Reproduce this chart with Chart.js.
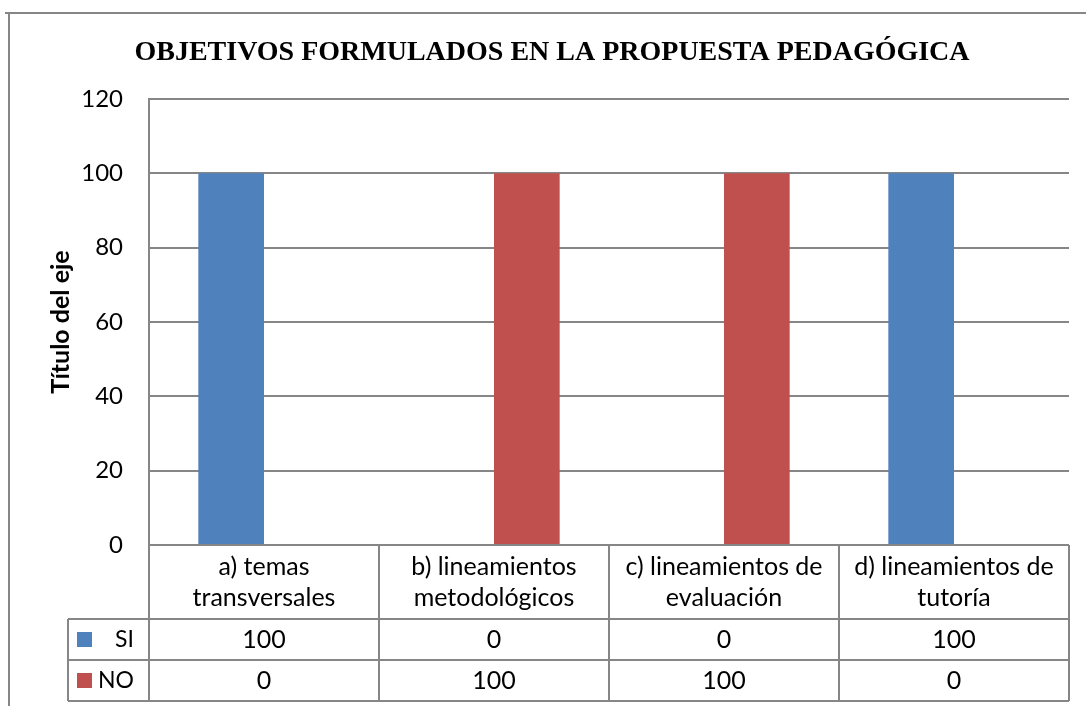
<!DOCTYPE html>
<html>
<head>
<meta charset="utf-8">
<title>Objetivos formulados en la propuesta pedagógica</title>
<script src="https://cdn.jsdelivr.net/npm/chart.js@4.4.1/dist/chart.umd.min.js"></script>
<style>
    html, body { margin: 0; padding: 0; background: #ffffff; }
    #wrap { width: 1086px; height: 706px; position: relative; }
</style>
</head>
<body>
<div id="wrap"><canvas id="barChart" width="1086" height="706"></canvas></div>
<script>
// Data
const chartTitle = 'OBJETIVOS FORMULADOS EN LA PROPUESTA PEDAGÓGICA';
const axisTitle = 'Título del eje';
const categories = [
    ['a) temas', 'transversales'],
    ['b) lineamientos', 'metodológicos'],
    ['c) lineamientos de', 'evaluación'],
    ['d) lineamientos de', 'tutoría']
];
const siValues = [100, 0, 0, 100];
const noValues = [0, 100, 100, 0];
const seriesNames = ['SI', 'NO'];
const seriesColors = ['#4F81BD', '#C0504D'];

const lineGray = '#868686';
const textFont = 'Lato, "Open Sans", sans-serif';

// Draws the title, the y axis title, the outer frame and the data table
const tablePlugin = {
    id: 'dataTable',
    afterDraw(chart) {
        const ctx = chart.ctx;
        const area = chart.chartArea;
        const xScale = chart.scales.x;
        const step = (area.right - area.left) / categories.length;
        const rowTop = area.bottom + 74;
        const rowH = 41;
        const legendLeft = 68;

        ctx.save();

        // outer frame (top and left edges visible)
        ctx.strokeStyle = lineGray;
        ctx.lineWidth = 2;
        ctx.beginPath();
        ctx.moveTo(5, 13);
        ctx.lineTo(1086, 13);
        ctx.moveTo(9, 13);
        ctx.lineTo(9, 706);
        ctx.stroke();

        // title
        ctx.fillStyle = '#000';
        ctx.font = 'bold 28px "Liberation Serif", "Times New Roman", serif';
        ctx.textAlign = 'center';
        ctx.textBaseline = 'alphabetic';
        ctx.fillText(chartTitle, 552, 60);

        // y axis title
        ctx.save();
        ctx.translate(61, (area.top + area.bottom) / 2);
        ctx.rotate(-Math.PI / 2);
        ctx.font = 'bold 25px ' + textFont;
        ctx.textBaseline = 'middle';
        ctx.fillText(axisTitle, 0, 0);
        ctx.restore();

        // table grid
        ctx.strokeStyle = lineGray;
        ctx.lineWidth = 2;
        ctx.beginPath();
        ctx.moveTo(area.left, area.bottom);
        ctx.lineTo(area.right, area.bottom);
        for (let r = 0; r <= 2; r++) {
            ctx.moveTo(legendLeft, rowTop + r * rowH);
            ctx.lineTo(area.right, rowTop + r * rowH);
        }
        for (let i = 0; i <= categories.length; i++) {
            const x = area.left + i * step;
            ctx.moveTo(x, area.bottom);
            ctx.lineTo(x, rowTop + 2 * rowH);
        }
        ctx.moveTo(legendLeft, rowTop);
        ctx.lineTo(legendLeft, rowTop + 2 * rowH);
        ctx.stroke();

        // header labels
        ctx.fillStyle = '#000';
        ctx.font = '25px ' + textFont;
        ctx.textAlign = 'center';
        ctx.textBaseline = 'middle';
        categories.forEach((lines, i) => {
            const cx = xScale.getPixelForValue(i);
            ctx.fillText(lines[0], cx, area.bottom + 22);
            ctx.fillText(lines[1], cx, area.bottom + 53);
        });

        // value rows
        const rows = [siValues, noValues];
        rows.forEach((vals, r) => {
            const cy = rowTop + r * rowH + rowH / 2;
            ctx.font = '25px ' + textFont;
            vals.forEach((v, i) => {
                ctx.fillText(String(v), xScale.getPixelForValue(i), cy);
            });
            // legend key + name
            ctx.fillStyle = seriesColors[r];
            ctx.fillRect(77, cy - 7.5, 15, 15);
            ctx.fillStyle = '#000';
            ctx.font = '23px ' + textFont;
            ctx.textAlign = 'right';
            ctx.fillText(seriesNames[r], 134, cy);
            ctx.textAlign = 'center';
        });

        ctx.restore();
    }
};

function initChart() {
    const canvas = document.getElementById('barChart');
    new Chart(canvas.getContext('2d'), {
        type: 'bar',
        data: {
            labels: categories.map(c => c.join(' ')),
            datasets: [
                {
                    label: seriesNames[0],
                    data: siValues,
                    backgroundColor: seriesColors[0],
                    borderWidth: 0,
                    categoryPercentage: 0.571,
                    barPercentage: 1.0
                },
                {
                    label: seriesNames[1],
                    data: noValues,
                    backgroundColor: seriesColors[1],
                    borderWidth: 0,
                    categoryPercentage: 0.571,
                    barPercentage: 1.0
                }
            ]
        },
        options: {
            responsive: false,
            animation: false,
            layout: {
                padding: { top: 99, bottom: 161, right: 17, left: 0 }
            },
            scales: {
                x: {
                    display: false
                },
                y: {
                    min: 0,
                    max: 120,
                    afterFit: scale => { scale.width = 149; },
                    ticks: {
                        stepSize: 20,
                        color: '#000',
                        padding: 26,
                        font: { family: textFont, size: 24 }
                    },
                    grid: {
                        color: lineGray,
                        lineWidth: 2,
                        drawTicks: false
                    },
                    border: {
                        color: lineGray,
                        width: 2
                    }
                }
            },
            plugins: {
                legend: { display: false },
                title: { display: false },
                tooltip: { enabled: false }
            }
        },
        plugins: [tablePlugin]
    });
}

document.addEventListener('DOMContentLoaded', initChart);
</script>
</body>
</html>
